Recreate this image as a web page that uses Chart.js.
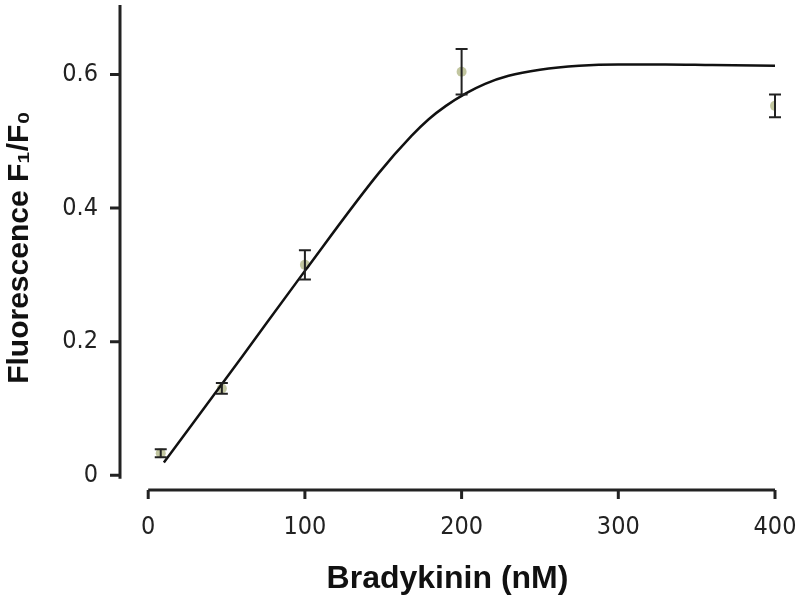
<!DOCTYPE html>
<html>
<head>
<meta charset="utf-8">
<script src="https://cdn.jsdelivr.net/npm/chart.js@4.4.1/dist/chart.umd.min.js"></script>
<style>
  html, body { margin: 0; padding: 0; background: #fff; }
</style>
</head>
<body>
<canvas id="doseChart" width="800" height="600"></canvas>
<script>
// fitted curve
const curveX = [10, 60, 100, 147, 168, 179, 190, 203, 215, 230, 250, 275, 300, 330, 360, 400];
const curveY = [0.019, 0.178, 0.306, 0.452, 0.508, 0.533, 0.553, 0.572, 0.586, 0.598, 0.607, 0.613, 0.615, 0.615, 0.614, 0.613];

// measured points with error bars
const doseX = [8, 47, 100, 200, 400];
const meanY = [0.033, 0.13, 0.315, 0.604, 0.553];
const errY = [0.006, 0.008, 0.022, 0.034, 0.017];

const xTicks = [0, 100, 200, 300, 400];
const yTicks = [0, 0.2, 0.4, 0.6];

const tickFont = { family: "'Liberation Sans Narrow', 'DejaVu Sans Condensed', 'Liberation Sans', sans-serif", size: 25 };

// axes are drawn by hand so the x axis can sit below and apart from the y axis
const axesPlugin = {
  id: "axes",
  afterDatasetsDraw(chart) {
    const ctx = chart.ctx;
    const xs = chart.scales.x;
    const ys = chart.scales.y;
    const area = chart.chartArea;
    ctx.save();
    ctx.strokeStyle = "#222";
    ctx.lineWidth = 3;
    ctx.beginPath();
    ctx.moveTo(area.left, area.top);
    ctx.lineTo(area.left, ys.getPixelForValue(-0.005));
    ctx.moveTo(xs.getPixelForValue(0), area.bottom);
    ctx.lineTo(xs.getPixelForValue(400), area.bottom);
    yTicks.forEach(v => {
      const py = ys.getPixelForValue(v);
      ctx.moveTo(area.left - 10, py);
      ctx.lineTo(area.left, py);
    });
    xTicks.forEach(v => {
      const px = xs.getPixelForValue(v);
      ctx.moveTo(px, area.bottom);
      ctx.lineTo(px, area.bottom + 9);
    });
    ctx.stroke();

    // error bars
    ctx.lineWidth = 2;
    ctx.beginPath();
    doseX.forEach((x, i) => {
      const px = xs.getPixelForValue(x);
      const top = ys.getPixelForValue(meanY[i] + errY[i]);
      const bot = ys.getPixelForValue(meanY[i] - errY[i]);
      ctx.moveTo(px, top);
      ctx.lineTo(px, bot);
      ctx.moveTo(px - 6, top);
      ctx.lineTo(px + 6, top);
      ctx.moveTo(px - 6, bot);
      ctx.lineTo(px + 6, bot);
    });
    ctx.stroke();
    ctx.restore();
  }
};

new Chart(document.getElementById("doseChart"), {
  type: "scatter",
  data: {
    datasets: [
      {
        label: "Data",
        data: doseX.map((x, i) => ({ x: x, y: meanY[i] })),
        pointRadius: 5,
        backgroundColor: "#c2c6a0",
        borderWidth: 0,
        order: 2
      },
      {
        label: "Fit",
        type: "line",
        data: curveX.map((x, i) => ({ x: x, y: curveY[i] })),
        borderColor: "#111",
        borderWidth: 2.5,
        pointRadius: 0,
        fill: false,
        cubicInterpolationMode: "monotone",
        order: 1
      }
    ]
  },
  options: {
    responsive: false,
    animation: false,
    layout: { padding: { top: 0, right: 25, left: 0, bottom: 0 } },
    plugins: { legend: { display: false }, tooltip: { enabled: false } },
    scales: {
      x: {
        type: "linear",
        min: -18,
        max: 400,
        afterBuildTicks: s => { s.ticks = xTicks.map(v => ({ value: v })); },
        afterFit: s => { s.height = 110; s.paddingLeft = 0; s.paddingRight = 0; },
        grid: { display: false, drawTicks: false },
        border: { display: false },
        ticks: { font: tickFont, color: "#222", padding: 22, maxRotation: 0 },
        title: {
          display: true, text: "Bradykinin (nM)", color: "#111",
          font: { family: "'Liberation Sans', Arial, sans-serif", size: 32, weight: "bold" },
          padding: { top: 0, bottom: 2 }
        }
      },
      y: {
        min: -0.022,
        max: 0.704,
        afterBuildTicks: s => { s.ticks = yTicks.map(v => ({ value: v })); },
        afterFit: s => { s.width = 120; s.paddingTop = 0; s.paddingBottom = 0; },
        grid: { display: false, drawTicks: false },
        border: { display: false },
        ticks: { font: tickFont, color: "#222", padding: 22, callback: v => v === 0 ? "0" : v.toFixed(1) },
        title: {
          display: true, text: "Fluorescence F\u2081/F\u2080", color: "#111",
          font: { family: "'Liberation Sans', Arial, sans-serif", size: 30, weight: "bold" },
          padding: { top: 2, bottom: 0 }
        }
      }
    }
  },
  plugins: [axesPlugin]
});
</script>
</body>
</html>
